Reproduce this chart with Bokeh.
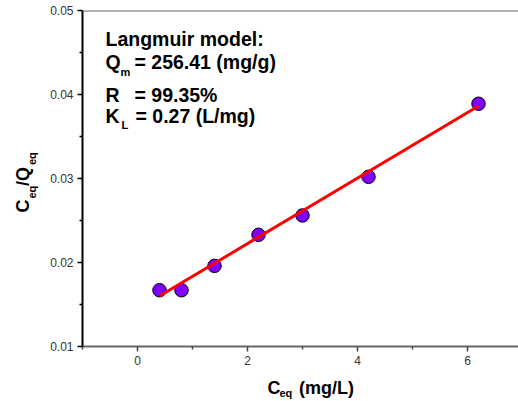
from bokeh.plotting import figure
from bokeh.models import Label, Span, FixedTicker, PrintfTickFormatter, Range1d
from bokeh.embed import file_html
from bokeh.resources import INLINE

# ---- data ----
ceq = [0.4, 0.8, 1.4, 2.2, 3.0, 4.2, 6.2]
ceq_over_qeq = [0.0167, 0.0167, 0.0196, 0.0233, 0.0256, 0.0302, 0.0389]
q_max = 256.41      # mg/g
k_l = 0.27          # L/mg
r_value = 99.35     # %
x_ticks = [0, 2, 4, 6]
x_minor = [-1, 1, 3, 5]
y_ticks = [0.01, 0.02, 0.03, 0.04, 0.05]
y_minor = [0.015, 0.025, 0.035, 0.045]

# Linearised Langmuir fit: Ceq/Qeq = Ceq/Qm + 1/(Qm*KL)
fit_x = [ceq[0], ceq[-1]]
fit_y = [x / q_max + 1.0 / (q_max * k_l) for x in fit_x]

FONT = "Liberation Sans"
NB = "\u00a0"      # non-breaking space
TH = "\u2009"      # thin space
SHIFT = 7          # baseline correction (px)

p = figure(width=518, height=401, output_backend="svg", toolbar_location=None,
           x_range=Range1d(-1, 6.927), y_range=Range1d(0.01, 0.05),
           min_border_left=82, min_border_right=0, min_border_top=10,
           min_border_bottom=55)
p.outline_line_color = None
p.grid.visible = False

for ax in (p.xaxis[0], p.yaxis[0]):
    ax.major_tick_out = 5
    ax.major_tick_in = 0
    ax.minor_tick_out = 3
    ax.minor_tick_in = 0
    ax.axis_line_width = 2
    ax.major_tick_line_width = 1.5
    ax.minor_tick_line_width = 1.5
    ax.major_label_text_font = FONT
    ax.major_label_text_font_size = "12px"
    ax.major_label_text_color = "#333333"
    ax.major_label_standoff = 4

p.xaxis.ticker = FixedTicker(ticks=x_ticks, minor_ticks=x_minor)
p.yaxis.ticker = FixedTicker(ticks=y_ticks, minor_ticks=y_minor)
p.yaxis.formatter = PrintfTickFormatter(format="%.2f")
p.xaxis.axis_line_color = "#666666"
p.xaxis.major_tick_line_color = "#444444"
p.xaxis.minor_tick_line_color = "#444444"

p.add_layout(Span(location=y_ticks[-1], dimension="width", line_color="#666666",
                  line_width=2))

p.scatter(ceq, ceq_over_qeq, size=13.5, fill_color="#7F00FF", line_color="black",
          line_width=1)
p.line(fit_x, fit_y, line_color="red", line_width=3)


# page-pixel position -> data units of the frame's scales
def dx(px):
    return -1 + (px - 82) / 55.0


def dy(py):
    return 0.01 + (346 - py) / 8400.0


def lab(text, x, y, size, angle=0, place=None):
    if angle:
        x -= SHIFT
    else:
        y -= SHIFT
    lb = Label(x=dx(x), y=dy(y), text=text, text_font=FONT,
               text_font_style="bold", text_font_size=size,
               text_color="black", text_baseline="alphabetic",
               text_align="left", angle=angle, angle_units="deg")
    if place is None:
        p.add_layout(lb)
    else:
        p.add_layout(lb, place)


big = "19.5px"
small = "11px"
lab("Langmuir model:", 105, 45, big)
lab("Q", 105, 68, big)
lab("m", 120, 78, small)
lab("= %.2f (mg/g)" % q_max, 134, 68, big)
lab("R", 105, 101, big)
lab("= %.2f%%" % r_value, 134, 101, big)
lab("K", 105, 122, big)
lab("L", 121, 131, small)
lab("= %.2f (L/mg)" % k_l, 135, 122, big)

# x axis title (side panels, so they are not clipped by the frame)
lab("C" + NB * 3 + TH + "(mg/L)", 267, 394, "18px", place="below")
lab("eq", 279, 399, small, place="left")

# y axis title (rotated)
lab("C" + NB * 2 + TH + "/Q", 30, 212, "18px", 90, place="left")
lab("eq" + NB * 6 + TH + "eq", 39, 198, small, 90, place="left")

open("out.html", "w").write(file_html(p, INLINE))
